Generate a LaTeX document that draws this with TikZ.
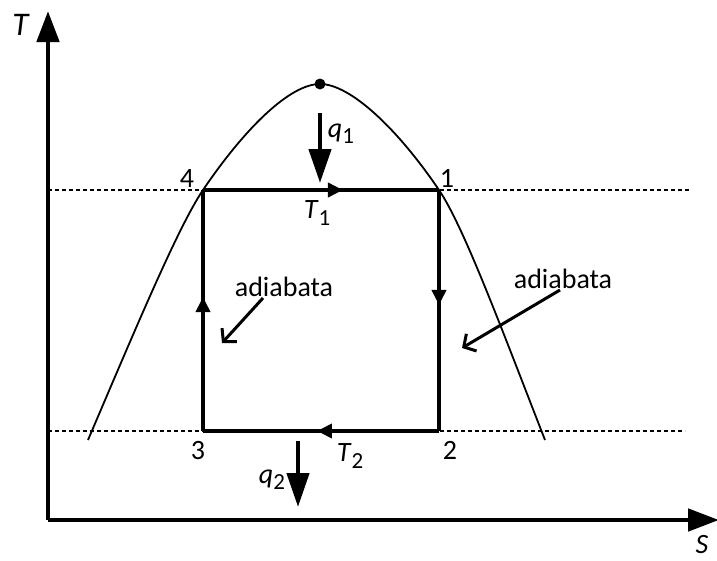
\documentclass[tikz,border=0pt]{standalone}
\usepackage{fontspec}
\setmainfont{Carlito}
\usetikzlibrary{arrows.meta,decorations.markings}
\newcommand{\mysub}[1]{\raisebox{-0.22em}{\fontsize{23}{24}\selectfont #1}}
\begin{document}
\begin{tikzpicture}[x=1pt,y=-1pt,
  axis/.style={line width=4.8pt,-{Triangle[length=31pt,width=22pt]}},
  cyc/.style={line width=4pt},
  lbl/.style={inner sep=0pt,font=\fontsize{28}{33}\selectfont},
  dashline/.style={line width=2.2pt,dash pattern=on 4pt off 3pt},
  heat/.style={line width=4.5pt,-{Triangle[length=34pt,width=22pt]}},
  pointer/.style={line width=3pt,-{Straight Barb[length=9pt,width=20pt]}},
  dome/.style={line width=1.8pt},
  markarrow/.style={postaction={decorate},decoration={markings,mark=at position #1 with {\arrow{Triangle[length=15pt,width=14pt]}}}}
]
\useasboundingbox (0,0) rectangle (717,560);
% axes
\coordinate (O) at (48,520);
\coordinate (Ytip) at (48,11);
\coordinate (Xtip) at (719,520);
\draw[axis] (O) -- (Ytip);
\draw[axis] (O) -- (Xtip);
\node[lbl,anchor=center,font=\fontsize{33}{38}\selectfont] (Tlab) at (21,25) {\textit{T}};
\node[lbl,anchor=south] (Slab) at (702,554) {\textit{S}};
% dashed isotherms
\coordinate (dTl) at (48,190);
\coordinate (dTr) at (690,190);
\coordinate (dBl) at (48,431);
\coordinate (dBr) at (685,431);
\draw[dashline] (dTl) -- (dTr);
\draw[dashline] (dBl) -- (dBr);
% saturation dome
\coordinate (domeL) at (88,440);
\coordinate (domeTop) at (320,84);
\coordinate (domeR) at (545,440);
\draw[dome] (domeL) .. controls (135,330) and (178,227) .. (203,190)
  .. controls (245,128) and (290,84) .. (domeTop)
  .. controls (350,84) and (397,128) .. (439,190)
  .. controls (464,227) and (502,330) .. (domeR);
\fill (domeTop) circle (5.5pt);
% cycle corners
\coordinate (c1) at (439,190);
\coordinate (c2) at (439,431);
\coordinate (c3) at (203,431);
\coordinate (c4) at (203,190);
\draw[cyc,markarrow=0.593] (c4) -- (c1);
\draw[cyc,markarrow=0.477] (c1) -- (c2);
\draw[cyc,markarrow=0.517] (c2) -- (c3);
\draw[cyc,markarrow=0.556] (c3) -- (c4);
% point labels
\node[lbl] (p4) at (187,179) {4};
\node[lbl] (p1) at (447,178) {1};
\node[lbl] (p3) at (198,451) {3};
\node[lbl] (p2) at (450,450) {2};
% temperatures
\node[lbl] (T1) at (317,213) {\textit{T}\mysub{1}};
\node[lbl] (T2) at (350,456) {\textit{T}\mysub{2}};
% heat arrows
\coordinate (q1s) at (320,113);
\coordinate (q1e) at (320,183);
\draw[heat] (q1s) -- (q1e);
\node[lbl] (q1) at (341,134) {\textit{q}\mysub{1}};
\coordinate (q2s) at (298,441);
\coordinate (q2e) at (298,507);
\draw[heat] (q2s) -- (q2e);
\node[lbl] (q2) at (272,480) {\textit{q}\mysub{2}};
% adiabata labels
\node[lbl] (adL) at (284,287) {adiabata};
\node[lbl] (adR) at (563,279) {adiabata};
\coordinate (adLs) at (263,298);
\coordinate (adLt) at (222,343);
\coordinate (adRs) at (560,290);
\coordinate (adRt) at (462,348);
\draw[pointer] (adLs) -- (adLt);
\draw[pointer] (adRs) -- (adRt);
\end{tikzpicture}
\end{document}
